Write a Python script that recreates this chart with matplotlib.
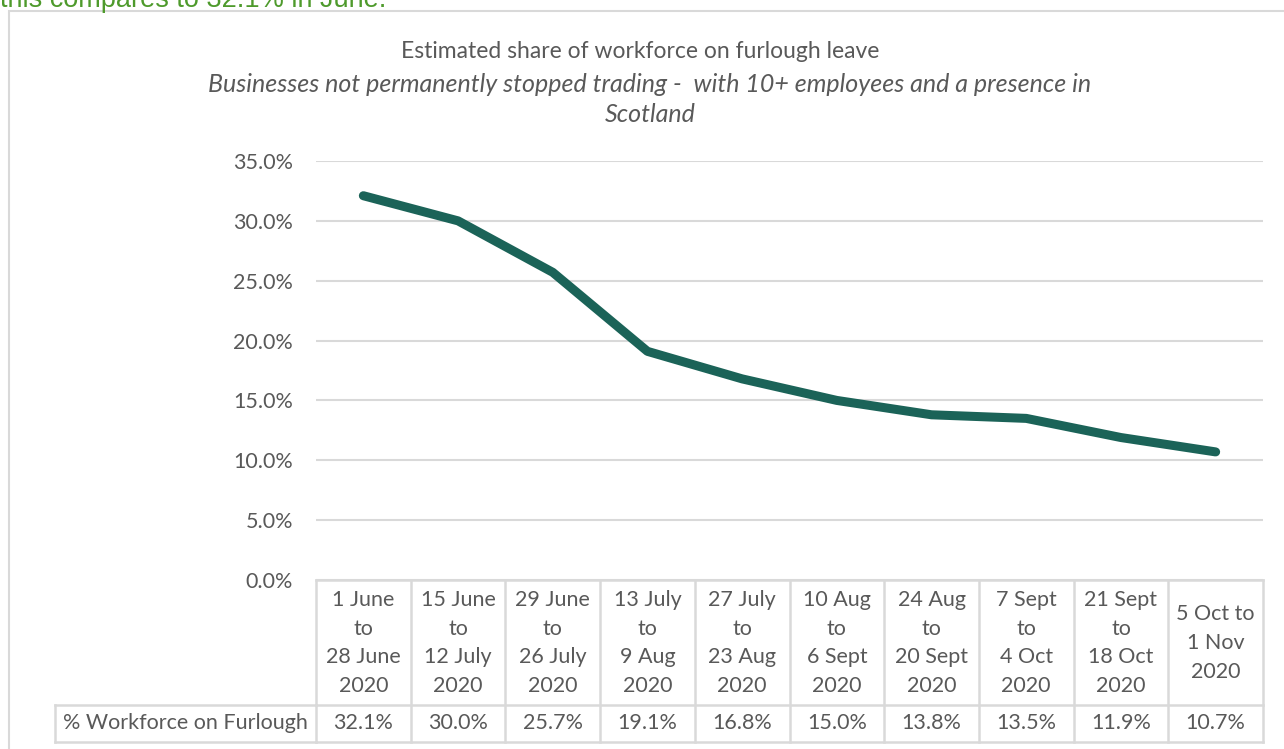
import matplotlib

matplotlib.use('Agg')
import matplotlib.pyplot as plt
from matplotlib.patches import Rectangle
from matplotlib.lines import Line2D
from matplotlib.ticker import FuncFormatter, MultipleLocator

# --- DATA ---
periods = [
    "1 June\nto\n28 June\n2020",
    "15 June\nto\n12 July\n2020",
    "29 June\nto\n26 July\n2020",
    "13 July\nto\n9 Aug\n2020",
    "27 July\nto\n23 Aug\n2020",
    "10 Aug\nto\n6 Sept\n2020",
    "24 Aug\nto\n20 Sept\n2020",
    "7 Sept\nto\n4 Oct\n2020",
    "21 Sept\nto\n18 Oct\n2020",
    "5 Oct to\n1 Nov\n2020",
]
furlough_pct = [32.1, 30.0, 25.7, 19.1, 16.8, 15.0, 13.8, 13.5, 11.9, 10.7]
series_name = "% Workforce on Furlough"

# --- THEME ---
W, H = 1284, 749
C_LINE = '#1b6358'
C_GRID = '#d9d9d9'
C_TEXT = '#595959'
C_GREEN = '#4e9a2c'
FONT = 'Lato'
FS = 15.5


def fx(px): return px / W


def fy(py): return 1 - py / H


fig = plt.figure(figsize=(W / 100, H / 100), dpi=100)

# chart frame (right/bottom run off the page)
fig.patches.append(Rectangle((fx(9), fy(H + 5)), fx(W + 5), fy(11) - fy(H + 5),
                             transform=fig.transFigure, fill=False,
                             edgecolor=C_GRID, linewidth=1.5))

# cut-off body text above the chart (only its lower half is on the page)
fig.text(fx(0), fy(7), "this compares to 32.1% in June.", color=C_GREEN,
         fontsize=19.5, family='Liberation Sans', va='baseline', ha='left')

# titles
fig.text(fx(640), fy(52), "Estimated share of workforce on furlough leave",
         ha='center', va='center', fontsize=16.5, color=C_TEXT, family=FONT)
fig.text(fx(650), fy(84), "Businesses not permanently stopped trading -  with 10+ employees and a presence in",
         ha='center', va='center', fontsize=18, color=C_TEXT, family=FONT, style='italic')
fig.text(fx(650), fy(114), "Scotland",
         ha='center', va='center', fontsize=18, color=C_TEXT, family=FONT, style='italic')

# plot area
x0, x1, y_top, y_bot = 316, 1263, 161, 580
ax = fig.add_axes([fx(x0), fy(y_bot), fx(x1 - x0), fy(y_top) - fy(y_bot)])
n = len(furlough_pct)
xs = list(range(n))
ax.plot(xs, furlough_pct, color=C_LINE, linewidth=6.5, solid_capstyle='round',
        solid_joinstyle='round', zorder=3)
ax.set_xlim(-0.5, n - 0.5)
ax.set_ylim(0, 35)
ax.yaxis.set_major_locator(MultipleLocator(5))
ax.yaxis.set_major_formatter(FuncFormatter(lambda v, p: f"{v:.1f}%"))
ax.grid(axis='y', color=C_GRID, linewidth=1.5)
ax.set_axisbelow(True)
for s in ax.spines.values():
    s.set_visible(False)
ax.set_xticks([])
ax.tick_params(axis='y', length=0, pad=16.5, labelsize=FS, labelcolor=C_TEXT)
for lab in ax.get_yticklabels():
    lab.set_family(FONT)

# --- DATA TABLE under the axis ---
row_mid = 705
row_bot = 742
trans = ax.get_xaxis_transform()  # x in data, y in axes fraction


def ay(py): return (y_bot - py) / (y_bot - y_top)


lk = dict(color=C_GRID, linewidth=1.8, clip_on=False, transform=trans)
ax.add_line(Line2D([-0.5, n - 0.5], [ay(y_bot), ay(y_bot)], **lk))
ax.add_line(Line2D([-0.5, n - 0.5], [ay(row_mid), ay(row_mid)], **lk))
ax.add_line(Line2D([-0.5, n - 0.5], [ay(row_bot), ay(row_bot)], **lk))
for i in range(n + 1):
    ax.add_line(Line2D([i - 0.5, i - 0.5], [ay(y_bot), ay(row_bot)], **lk))

# label cell on the left
fk = dict(color=C_GRID, linewidth=1.8, transform=fig.transFigure)
fig.lines.append(Line2D([fx(55), fx(x0)], [fy(row_mid), fy(row_mid)], **fk))
fig.lines.append(Line2D([fx(55), fx(x0)], [fy(row_bot), fy(row_bot)], **fk))
fig.lines.append(Line2D([fx(55), fx(55)], [fy(row_mid), fy(row_bot)], **fk))
fig.text(fx(185), fy(723), series_name, ha='center', va='center',
         fontsize=FS, color=C_TEXT, family=FONT)

for i, (lab, v) in enumerate(zip(periods, furlough_pct)):
    ax.text(i, ay(643), lab, transform=trans, ha='center', va='center',
            multialignment='center', fontsize=FS, color=C_TEXT, family=FONT,
            linespacing=1.55, clip_on=False)
    ax.text(i, ay(723), f"{v:.1f}%", transform=trans, ha='center', va='center',
            fontsize=FS, color=C_TEXT, family=FONT, clip_on=False)

fig.savefig('out.png', dpi=100)
